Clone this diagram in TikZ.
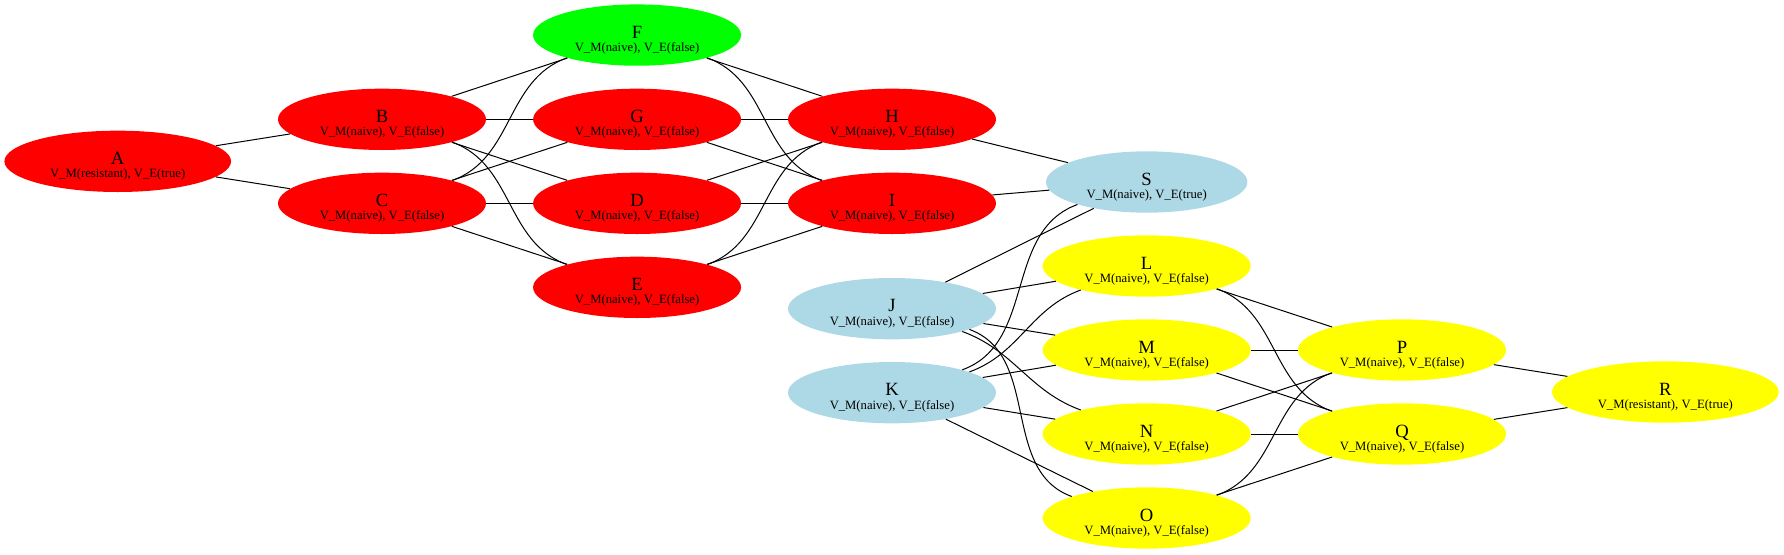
\documentclass[tikz,border=0pt]{standalone}
\usepackage{fontspec}
\setmainfont{Liberation Serif}
\usetikzlibrary{shapes.geometric}
\definecolor{lightblue}{HTML}{ADD8E6}
\definecolor{statered}{HTML}{FF0000}
\definecolor{stategreen}{HTML}{00FF00}
\definecolor{stateyellow}{HTML}{FFFF00}

\newcommand{\statetext}[2]{\rule{0pt}{17pt}\fontsize{14}{14}\selectfont #1\\[-2pt]\fontsize{9.5}{11}\selectfont #2}

\begin{document}
\begin{tikzpicture}[x=1pt, y=1pt,
  state/.style={ellipse, fill=#1, draw=none, minimum width=156pt, minimum height=46pt, inner sep=0pt, align=center},
  widestate/.style={state=#1, minimum width=170pt},
  link/.style={line width=0.75pt}]

\useasboundingbox (0,0) rectangle (1338,-415.5);

% left group
\node[widestate=statered] (A) at (88.3,-121) {\statetext{A}{V\_M(resistant), V\_E(true)}};
\node[state=statered] (B) at (286.5,-89.5) {\statetext{B}{V\_M(naive), V\_E(false)}};
\node[state=statered] (C) at (286.5,-152.5) {\statetext{C}{V\_M(naive), V\_E(false)}};
\node[state=stategreen] (F) at (477.8,-26.3) {\statetext{F}{V\_M(naive), V\_E(false)}};
\node[state=statered] (G) at (477.8,-89.5) {\statetext{G}{V\_M(naive), V\_E(false)}};
\node[state=statered] (D) at (477.8,-152.5) {\statetext{D}{V\_M(naive), V\_E(false)}};
\node[state=statered] (E) at (477.8,-215.5) {\statetext{E}{V\_M(naive), V\_E(false)}};
\node[state=statered] (H) at (669,-89.5) {\statetext{H}{V\_M(naive), V\_E(false)}};
\node[state=statered] (I) at (669,-152.5) {\statetext{I}{V\_M(naive), V\_E(false)}};

% middle
\node[state=lightblue, minimum width=151pt] (S) at (860,-136.5) {\statetext{S}{V\_M(naive), V\_E(true)}};
\node[state=lightblue] (J) at (669,-231.5) {\statetext{J}{V\_M(naive), V\_E(false)}};
\node[state=lightblue] (K) at (669,-294.5) {\statetext{K}{V\_M(naive), V\_E(false)}};

% right group
\node[state=stateyellow] (L) at (860,-199.5) {\statetext{L}{V\_M(naive), V\_E(false)}};
\node[state=stateyellow] (M) at (860,-262.5) {\statetext{M}{V\_M(naive), V\_E(false)}};
\node[state=stateyellow] (N) at (860,-325.5) {\statetext{N}{V\_M(naive), V\_E(false)}};
\node[state=stateyellow] (O) at (860,-388.5) {\statetext{O}{V\_M(naive), V\_E(false)}};
\node[state=stateyellow] (P) at (1051.5,-262.5) {\statetext{P}{V\_M(naive), V\_E(false)}};
\node[state=stateyellow] (Q) at (1051.5,-325.5) {\statetext{Q}{V\_M(naive), V\_E(false)}};
\node[widestate=stateyellow] (R) at (1249,-294) {\statetext{R}{V\_M(resistant), V\_E(true)}};


% edges of the left group
\draw[link] (A) -- (B);
\draw[link] (A) -- (C);
\draw[link] (B) -- (F);
\draw[link] (B) -- (G);
\draw[link] (B) -- (D);
\draw[link] (B.-18) to[out=-20, in=160] (E.162);
\draw[link] (C.18) to[out=20, in=-160] (F.-162);
\draw[link] (C) -- (G);
\draw[link] (C) -- (D);
\draw[link] (C) -- (E);
\draw[link] (F) -- (H);
\draw[link] (F.-18) to[out=-20, in=160] (I.162);
\draw[link] (G) -- (H);
\draw[link] (G) -- (I);
\draw[link] (D) -- (H);
\draw[link] (D) -- (I);
\draw[link] (E.18) to[out=20, in=-160] (H.-162);
\draw[link] (E) -- (I);
\draw[link] (H) -- (S);
\draw[link] (I) -- (S);

% edges of the right group
\draw[link] (J) -- (S);
\draw[link] (K.18) to[out=20, in=-160] (S.-162);
\draw[link] (J) -- (L);
\draw[link] (J) -- (M);
\draw[link] (J.-18) to[out=-20, in=160] (N.160);
\draw[link] (J.-15) to[out=-20, in=160] (O.164);
\draw[link] (K.15) to[out=20, in=-160] (L.-160);
\draw[link] (K) -- (M);
\draw[link] (K) -- (N);
\draw[link] (K) -- (O);
\draw[link] (L) -- (P);
\draw[link] (L.-18) to[out=-20, in=160] (Q.162);
\draw[link] (M) -- (P);
\draw[link] (M) -- (Q);
\draw[link] (N) -- (P);
\draw[link] (N) -- (Q);
\draw[link] (O.18) to[out=20, in=-160] (P.-162);
\draw[link] (O) -- (Q);
\draw[link] (P) -- (R);
\draw[link] (Q) -- (R);

\end{tikzpicture}
\end{document}
